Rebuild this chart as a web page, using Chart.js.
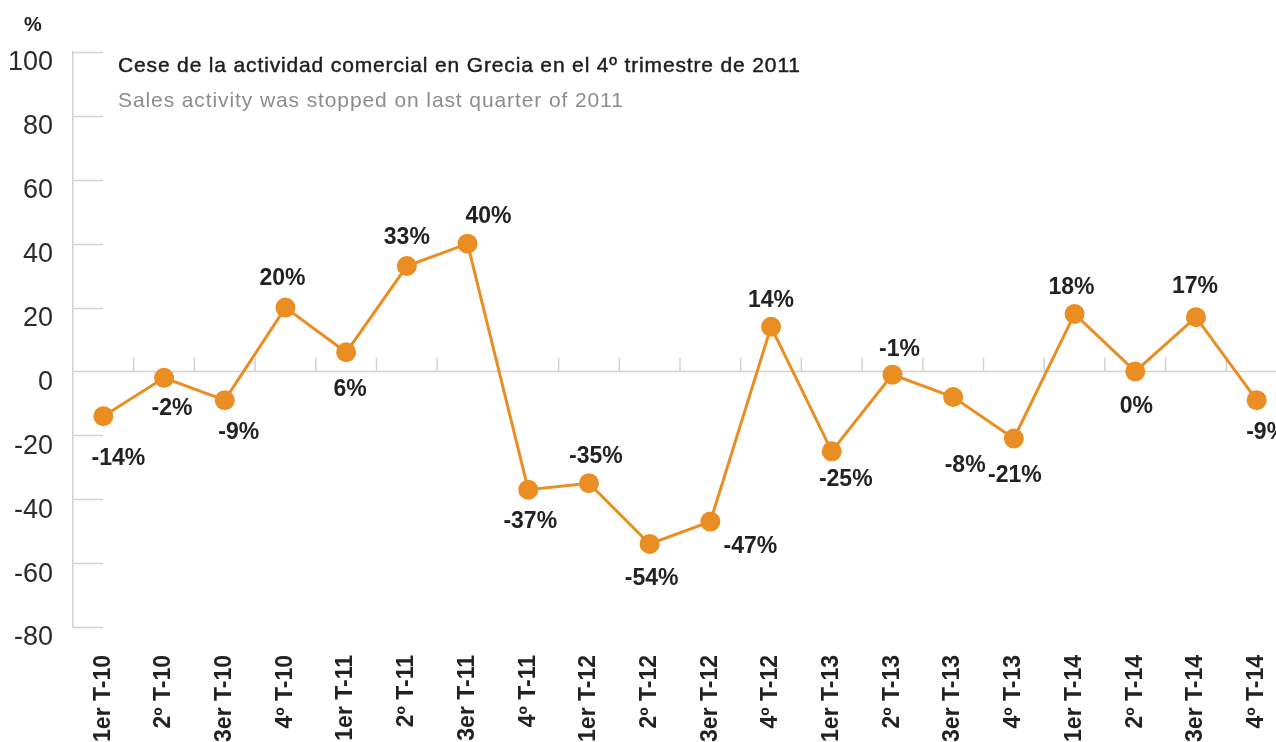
<!DOCTYPE html>
<html>
<head>
<meta charset="utf-8">
<script src="https://cdn.jsdelivr.net/npm/chart.js@4.4.1/dist/chart.umd.min.js"></script>
<style>
  html, body { margin: 0; padding: 0; background: #fff; overflow: hidden; }
  #wrap { position: relative; width: 1287px; height: 742px; }
  canvas { display: block; }
  .note { position: absolute; font-family: "Liberation Sans", Arial, sans-serif; white-space: nowrap; }
  #unit { left: 24px; top: 13px; font-size: 20px; font-weight: bold; color: #222; }
  #title { left: 118px; top: 53px; font-size: 21px; color: #1e1e1e; letter-spacing: 0.85px; -webkit-text-stroke: 0.45px #1e1e1e; }
  #subtitle { left: 118px; top: 88px; font-size: 21px; color: #8c8c8c; letter-spacing: 0.9px; }
</style>
</head>
<body>
<div id="wrap">
  <canvas id="chart" width="1287" height="742"></canvas>
  <div class="note" id="unit">%</div>
  <div class="note" id="title">Cese de la actividad comercial en Grecia en el 4º trimestre de 2011</div>
  <div class="note" id="subtitle">Sales activity was stopped on last quarter of 2011</div>
</div>
<script>
// quarters shown on the x axis
const quarters = [
  '1er T-10', '2º T-10', '3er T-10', '4º T-10',
  '1er T-11', '2º T-11', '3er T-11', '4º T-11',
  '1er T-12', '2º T-12', '3er T-12', '4º T-12',
  '1er T-13', '2º T-13', '3er T-13', '4º T-13',
  '1er T-14', '2º T-14', '3er T-14', '4º T-14'
];

// quarterly change, %
const changePct = [-14, -2, -9, 20, 6, 33, 40, -37, -35, -54, -47, 14, -25, -1, -8, -21, 18, 0, 17, -9];

// y axis range and step
const yMin = -80;
const yMax = 100;
const yStep = 20;

// where each value label sits relative to its point [dx, dy]
const labelNudge = [
  [15, 42], [8, 31], [14, 32], [-3, -29], [4, 37],
  [0, -28], [21, -27], [2, 32], [7, -27], [2, 35],
  [40, 25], [0, -26], [14, 28], [7, -25], [12, 69],
  [1, 37], [-3, -26], [1, 35], [-1, -30], [10, 32]
];

const ORANGE = '#ea8d22';
const AXIS_GREY = '#d2d2d2';

// short ticks on the y axis, zero line and the small quarter separators
const axisDecor = {
  id: 'axisDecor',
  beforeDatasetsDraw(chart) {
    const { ctx, chartArea, scales: { x, y } } = chart;
    ctx.save();
    ctx.strokeStyle = AXIS_GREY;
    ctx.lineWidth = 1.5;

    y.ticks.forEach(t => {
      if (t.value === 0) return;
      const py = Math.round(y.getPixelForValue(t.value)) + 0.5;
      ctx.beginPath();
      ctx.moveTo(chartArea.left, py);
      ctx.lineTo(chartArea.left + 30, py);
      ctx.stroke();
    });

    const zeroY = Math.round(y.getPixelForValue(0)) + 0.5;
    ctx.beginPath();
    ctx.moveTo(chartArea.left, zeroY);
    ctx.lineTo(chartArea.right, zeroY);
    ctx.stroke();

    for (let i = 0; i < quarters.length - 1; i++) {
      const px = (x.getPixelForValue(i) + x.getPixelForValue(i + 1)) / 2;
      ctx.beginPath();
      ctx.moveTo(px, zeroY);
      ctx.lineTo(px, zeroY - 14);
      ctx.stroke();
    }
    ctx.restore();
  }
};

// value labels next to each point
const valueLabels = {
  id: 'valueLabels',
  afterDatasetsDraw(chart) {
    const { ctx } = chart;
    const meta = chart.getDatasetMeta(0);
    ctx.save();
    ctx.font = 'bold 23px "Liberation Sans", Arial, sans-serif';
    ctx.fillStyle = '#222';
    ctx.textAlign = 'center';
    ctx.textBaseline = 'middle';
    meta.data.forEach((pt, i) => {
      const [dx, dy] = labelNudge[i];
      ctx.fillText(`${changePct[i]}%`, pt.x + dx, pt.y + dy);
    });
    ctx.restore();
  }
};

const ctx = document.getElementById('chart').getContext('2d');
new Chart(ctx, {
  type: 'line',
  data: {
    labels: quarters,
    datasets: [{
      data: changePct,
      borderColor: ORANGE,
      backgroundColor: ORANGE,
      borderWidth: 3,
      pointRadius: 10,
      pointHoverRadius: 10,
      pointBackgroundColor: ORANGE,
      pointBorderWidth: 0,
      tension: 0,
      fill: false,
      clip: false
    }]
  },
  options: {
    responsive: false,
    animation: false,
    events: [],
    // the plot runs past the visible window on the right, as in the source
    layout: { autoPadding: false, padding: { top: 52, left: 0, right: 0, bottom: 0 } },
    plugins: {
      legend: { display: false },
      tooltip: { enabled: false }
    },
    scales: {
      x: {
        offset: true,
        grid: { display: false, drawTicks: false },
        border: { display: false },
        ticks: {
          autoSkip: false,
          minRotation: 90,
          maxRotation: 90,
          padding: 28,
          color: '#222',
          font: { family: '"Liberation Sans", Arial, sans-serif', size: 23, weight: 'bold' }
        },
        afterFit: (s) => {
          s.height = 115;
          s.paddingLeft = 0;
          s.paddingRight = 0;
        }
      },
      y: {
        min: yMin,
        max: yMax,
        grid: { display: false, drawTicks: false },
        border: { display: true, color: AXIS_GREY, width: 1.5 },
        ticks: {
          stepSize: yStep,
          padding: 20,
          labelOffset: 11,
          color: '#2b2b2b',
          font: { family: '"Liberation Sans", Arial, sans-serif', size: 27 }
        },
        afterFit: (s) => {
          s.width = 73;
          s.paddingTop = 0;
          s.paddingBottom = 0;
        }
      }
    }
  },
  plugins: [axisDecor, valueLabels]
});
</script>
</body>
</html>
